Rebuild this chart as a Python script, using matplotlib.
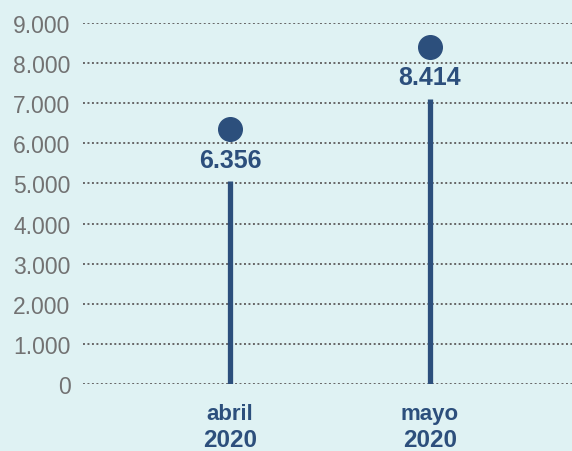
import matplotlib.pyplot as plt

# data
months = ['abril', 'mayo']
years = ['2020', '2020']
values = [6356, 8414]
y_ticks = [0, 1000, 2000, 3000, 4000, 5000, 6000, 7000, 8000, 9000]

bg = '#dff2f3'
blue = '#2c4f7c'
gray = '#727272'

plt.rcParams['font.family'] = ['Liberation Sans', 'DejaVu Sans']

fig = plt.figure(figsize=(5.72, 4.52), dpi=100, facecolor=bg)
ax = fig.add_axes([83 / 572, 1 - 385 / 452, 1 - 83 / 572, (385 - 24) / 452])
ax.set_facecolor(bg)

x = list(range(len(values)))
gap = 1300  # room left for the value label between stem and dot

for xi, v in zip(x, values):
    ax.plot([xi, xi], [0, v - gap], color=blue, lw=3.8, solid_capstyle='butt', zorder=3)
    ax.plot(xi, v, 'o', color=blue, markersize=17, clip_on=False, zorder=4)
    ax.annotate(f'{v:,}'.replace(',', '.'), (xi, v), xytext=(0, -22),
                textcoords='offset points', ha='center', va='center',
                fontsize=18, fontweight='bold', color=blue, zorder=5)

ax.set_xlim(-0.735, 1.71)
ax.set_ylim(0, 9000)
ax.set_yticks(y_ticks)
ax.set_yticklabels([f'{t:,}'.replace(',', '.') for t in y_ticks], fontsize=16.5, color=gray)
ax.tick_params(axis='y', length=0, pad=9)
ax.set_xticks([])

for t in y_ticks:
    ax.axhline(t, color='#666666', lw=1.4, ls=(0, (1, 1.3)), zorder=1)

for sp in ax.spines.values():
    sp.set_visible(False)

for xi, m, yr in zip(x, months, years):
    ax.annotate(m, (xi, 0), xytext=(0, -21), textcoords='offset points',
                ha='center', va='center', fontsize=16, fontweight='bold',
                color=blue, annotation_clip=False)
    ax.annotate(yr, (xi, 0), xytext=(0, -40), textcoords='offset points',
                ha='center', va='center', fontsize=17.5, fontweight='bold',
                color=blue, annotation_clip=False)

fig.savefig('out.png', dpi=100, facecolor=bg)
